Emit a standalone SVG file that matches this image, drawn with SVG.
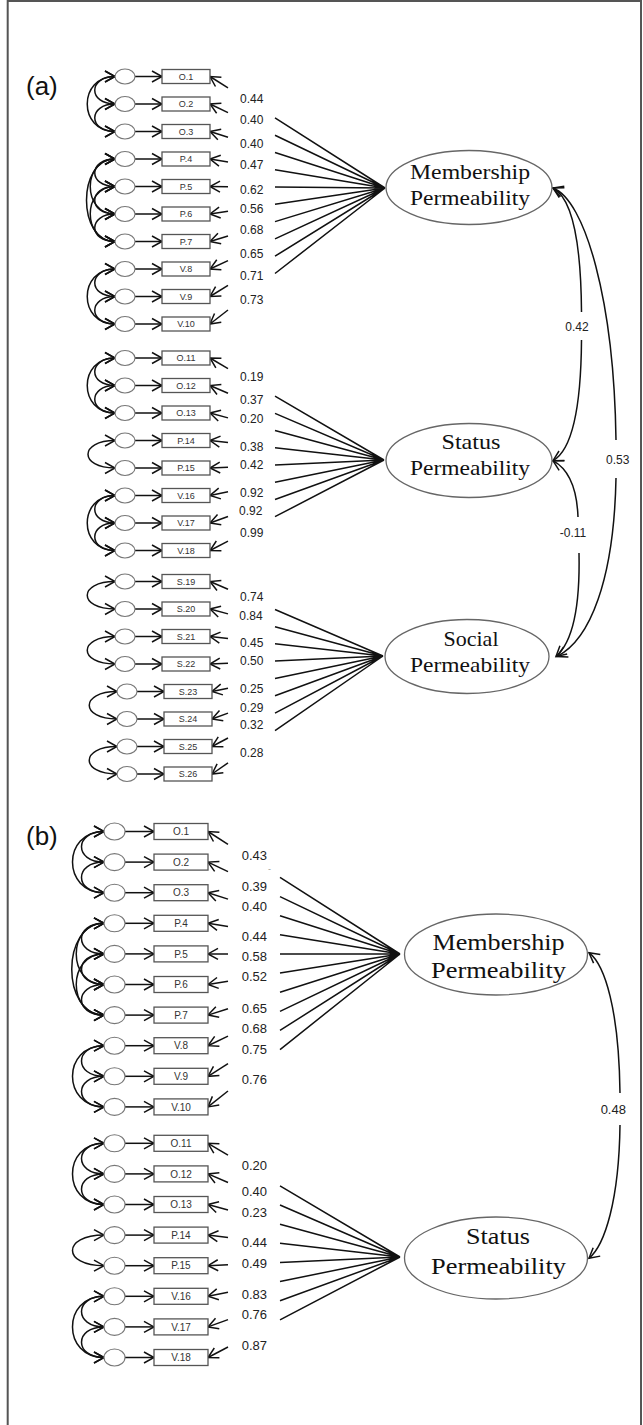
<svg xmlns="http://www.w3.org/2000/svg" width="643" height="1425" viewBox="0 0 643 1425">
<style>
.e{fill:#fff;stroke:#777;stroke-width:1.1}
.ind rect{fill:#fff;stroke:#555;stroke-width:1.3}
.ind text{font-family:"Liberation Sans",Arial,sans-serif;font-size:9px;fill:#333;text-anchor:middle}
.b .ind text{font-size:10px}
.fac ellipse{fill:#fff;stroke:#666;stroke-width:1.3}
.fac text{font-family:"Liberation Serif","Times New Roman",serif;fill:#111;text-anchor:middle;font-size:22px}
.b .fac text{font-size:24px}
.ln{stroke:#111;stroke-width:1.5;fill:none}
.arr{marker-end:url(#ah)}
.dbl{marker-start:url(#ah);marker-end:url(#ah)}
.lbl{font-family:"Liberation Sans",Arial,sans-serif;font-size:12px;fill:#222}
.lb{font-size:13px}
.cl{font-family:"Liberation Sans",Arial,sans-serif;font-size:12px;fill:#222;text-anchor:middle}
.pn{font-family:"Liberation Sans",Arial,sans-serif;font-size:26px;fill:#111}
</style>
<defs>
<marker id="ah" viewBox="-12 -8 14 16" refX="0" refY="0" markerWidth="14" markerHeight="16" markerUnits="userSpaceOnUse" orient="auto-start-reverse">
<path d="M-10,-5.5 L0,0 L-10,5.5" fill="none" stroke="#111" stroke-width="1.5"/>
</marker>
</defs>
<rect width="643" height="1425" fill="#fff"/>
<path d="M7.7,1425 L7.7,1 L641,1 L641,1425" fill="none" stroke="#555" stroke-width="2"/>
<text class="pn" x="26" y="95">(a)</text>
<text class="pn" x="26" y="845">(b)</text>

<g id="panel-a">
<g id="connectors-a">
<g class="ln arr">
<line x1="135" y1="76.5" x2="162" y2="76.5"/><line x1="135" y1="104" x2="162" y2="104"/><line x1="135" y1="131.5" x2="162" y2="131.5"/><line x1="135" y1="159" x2="162" y2="159"/><line x1="135" y1="186.5" x2="162" y2="186.5"/><line x1="135" y1="214" x2="162" y2="214"/><line x1="135" y1="241.5" x2="162" y2="241.5"/><line x1="135" y1="269" x2="162" y2="269"/><line x1="135" y1="296.5" x2="162" y2="296.5"/><line x1="135" y1="324" x2="162" y2="324"/>
<line x1="135" y1="358" x2="162" y2="358"/><line x1="135" y1="385.5" x2="162" y2="385.5"/><line x1="135" y1="413" x2="162" y2="413"/><line x1="135" y1="440.5" x2="162" y2="440.5"/><line x1="135" y1="468" x2="162" y2="468"/><line x1="135" y1="495.5" x2="162" y2="495.5"/><line x1="135" y1="523" x2="162" y2="523"/><line x1="135" y1="550.5" x2="162" y2="550.5"/>
<line x1="135" y1="581.5" x2="162" y2="581.5"/><line x1="135" y1="609" x2="162" y2="609"/><line x1="135" y1="636.5" x2="162" y2="636.5"/><line x1="135" y1="664" x2="162" y2="664"/><line x1="137" y1="691.5" x2="164" y2="691.5"/><line x1="137" y1="719" x2="164" y2="719"/><line x1="137" y1="746.5" x2="164" y2="746.5"/><line x1="137" y1="774" x2="164" y2="774"/>
<line x1="228" y1="87.97" x2="210" y2="76.5"/><line x1="228" y1="112.64" x2="210" y2="104"/><line x1="228" y1="137.31" x2="210" y2="131.5"/><line x1="228" y1="161.98" x2="210" y2="159"/><line x1="228" y1="186.65" x2="210" y2="186.5"/><line x1="228" y1="211.33" x2="210" y2="214"/><line x1="228" y1="236" x2="210" y2="241.5"/><line x1="228" y1="260.67" x2="210" y2="269"/><line x1="228" y1="285.34" x2="210" y2="296.5"/><line x1="228" y1="310.01" x2="210" y2="324"/>
<line x1="228" y1="368.55" x2="210" y2="358"/><line x1="228" y1="393.21" x2="210" y2="385.5"/><line x1="228" y1="417.86" x2="210" y2="413"/><line x1="228" y1="442.52" x2="210" y2="440.5"/><line x1="228" y1="467.17" x2="210" y2="468"/><line x1="228" y1="491.83" x2="210" y2="495.5"/><line x1="228" y1="516.48" x2="210" y2="523"/><line x1="228" y1="541.14" x2="210" y2="550.5"/>
<line x1="228" y1="589.25" x2="210" y2="581.5"/><line x1="228" y1="613.89" x2="210" y2="609"/><line x1="228" y1="638.53" x2="210" y2="636.5"/><line x1="228" y1="663.17" x2="210" y2="664"/><line x1="228" y1="688.18" x2="212" y2="691.5"/><line x1="228" y1="713.11" x2="212" y2="719"/><line x1="228" y1="738.03" x2="212" y2="746.5"/><line x1="228" y1="762.96" x2="212" y2="774"/>
</g>
<g class="ln dbl">
<path d="M115,76.5C88,76.5 88,104 115,104"/><path d="M115,104C88,104 88,131.5 115,131.5"/><path d="M115,76.5C78,76.5 78,131.5 115,131.5"/>
<path d="M115,159C88,159 88,186.5 115,186.5"/><path d="M115,186.5C88,186.5 88,214 115,214"/><path d="M115,214C88,214 88,241.5 115,241.5"/>
<path d="M115,159C82,159 82,214 115,214"/><path d="M115,186.5C82,186.5 82,241.5 115,241.5"/><path d="M115,159C77,159 77,241.5 115,241.5"/>
<path d="M115,269C88,269 88,296.5 115,296.5"/><path d="M115,296.5C88,296.5 88,324 115,324"/><path d="M115,269C78,269 78,324 115,324"/>
<path d="M115,358C88,358 88,385.5 115,385.5"/><path d="M115,385.5C88,385.5 88,413 115,413"/><path d="M115,358C78,358 78,413 115,413"/>
<path d="M115,440.5C79,440.5 79,468 115,468"/>
<path d="M115,495.5C88,495.5 88,523 115,523"/><path d="M115,523C88,523 88,550.5 115,550.5"/><path d="M115,495.5C78,495.5 78,550.5 115,550.5"/>
<path d="M115,581.5C78,581.5 78,609 115,609"/><path d="M115,636.5C78,636.5 78,664 115,664"/>
<path d="M117,691.5C80,691.5 80,719 117,719"/><path d="M117,746.5C80,746.5 80,774 117,774"/>
</g>
<path class="ln" d="M275,117.91L385,188M275,135.2L385,188M275,152.49L385,188M275,169.77L385,188M275,187.06L385,188M275,204.34L385,188M275,221.63L385,188M275,238.91L385,188M275,256.2L385,188M275,273.49L385,188"/>
<path class="ln" d="M275,396.1L384,460M275,413.33L384,460M275,430.56L384,460M275,447.78L384,460M275,465.01L384,460M275,482.24L384,460M275,499.47L384,460M275,516.69L384,460"/>
<path class="ln" d="M275,609.49L383,656M275,626.66L383,656M275,643.83L383,656M275,661L383,656M275,678.42L383,656M275,695.79L383,656M275,713.16L383,656M275,730.52L383,656"/>
<path class="ln" marker-start="url(#ah)" d="M553,188C572,198 581,240 581.5,312"/>
<path class="ln" marker-end="url(#ah)" d="M581.5,340C581,410 572,450 553,460.7"/>
<path class="ln" marker-start="url(#ah)" d="M553,188C585,200 614,300 616,440"/>
<path class="ln" marker-end="url(#ah)" d="M616,478C614,580 590,640 557,656.5"/>
<path class="ln" marker-start="url(#ah)" d="M553,460.7C570,470 577,490 578,517"/>
<path class="ln" marker-end="url(#ah)" d="M579,553C580,600 575,640 556,656.5"/>
<text class="cl" x="577" y="331">0.42</text>
<text class="cl" x="617.7" y="463.5">0.53</text>
<text class="cl" x="573" y="537">-0.11</text>
<g class="lbl">
<text x="240" y="102.6">0.44</text><text x="240" y="123.6">0.40</text><text x="240" y="147.6">0.40</text><text x="240" y="169.3">0.47</text><text x="240" y="194.3">0.62</text><text x="240" y="212.6">0.56</text><text x="240" y="234.3">0.68</text><text x="240" y="257.6">0.65</text><text x="240" y="280.3">0.71</text><text x="240" y="304.3">0.73</text>
<text x="240" y="381">0.19</text><text x="240" y="404.3">0.37</text><text x="240" y="422.6">0.20</text><text x="240" y="451">0.38</text><text x="240" y="468.6">0.42</text><text x="240" y="497">0.92</text><text x="239" y="515">0.92</text><text x="240" y="536.6">0.99</text>
<text x="240" y="601">0.74</text><text x="239.3" y="620">0.84</text><text x="240" y="647">0.45</text><text x="240" y="665.3">0.50</text><text x="240" y="692.6">0.25</text><text x="240" y="711.6">0.29</text><text x="240" y="729.3">0.32</text><text x="240" y="757">0.28</text>
</g>
</g>

<g id="a-errors">
<g id="a-e1"><ellipse class="e" cx="125" cy="76.5" rx="10" ry="7.5"/></g>
<g id="a-e2"><ellipse class="e" cx="125" cy="104" rx="10" ry="7.5"/></g>
<g id="a-e3"><ellipse class="e" cx="125" cy="131.5" rx="10" ry="7.5"/></g>
<g id="a-e4"><ellipse class="e" cx="125" cy="159" rx="10" ry="7.5"/></g>
<g id="a-e5"><ellipse class="e" cx="125" cy="186.5" rx="10" ry="7.5"/></g>
<g id="a-e6"><ellipse class="e" cx="125" cy="214" rx="10" ry="7.5"/></g>
<g id="a-e7"><ellipse class="e" cx="125" cy="241.5" rx="10" ry="7.5"/></g>
<g id="a-e8"><ellipse class="e" cx="125" cy="269" rx="10" ry="7.5"/></g>
<g id="a-e9"><ellipse class="e" cx="125" cy="296.5" rx="10" ry="7.5"/></g>
<g id="a-e10"><ellipse class="e" cx="125" cy="324" rx="10" ry="7.5"/></g>
<g id="a-e11"><ellipse class="e" cx="125" cy="358" rx="10" ry="7.5"/></g>
<g id="a-e12"><ellipse class="e" cx="125" cy="385.5" rx="10" ry="7.5"/></g>
<g id="a-e13"><ellipse class="e" cx="125" cy="413" rx="10" ry="7.5"/></g>
<g id="a-e14"><ellipse class="e" cx="125" cy="440.5" rx="10" ry="7.5"/></g>
<g id="a-e15"><ellipse class="e" cx="125" cy="468" rx="10" ry="7.5"/></g>
<g id="a-e16"><ellipse class="e" cx="125" cy="495.5" rx="10" ry="7.5"/></g>
<g id="a-e17"><ellipse class="e" cx="125" cy="523" rx="10" ry="7.5"/></g>
<g id="a-e18"><ellipse class="e" cx="125" cy="550.5" rx="10" ry="7.5"/></g>
<g id="a-e19"><ellipse class="e" cx="125" cy="581.5" rx="10" ry="7.5"/></g>
<g id="a-e20"><ellipse class="e" cx="125" cy="609" rx="10" ry="7.5"/></g>
<g id="a-e21"><ellipse class="e" cx="125" cy="636.5" rx="10" ry="7.5"/></g>
<g id="a-e22"><ellipse class="e" cx="125" cy="664" rx="10" ry="7.5"/></g>
<g id="a-e23"><ellipse class="e" cx="127" cy="691.5" rx="10" ry="7.5"/></g>
<g id="a-e24"><ellipse class="e" cx="127" cy="719" rx="10" ry="7.5"/></g>
<g id="a-e25"><ellipse class="e" cx="127" cy="746.5" rx="10" ry="7.5"/></g>
<g id="a-e26"><ellipse class="e" cx="127" cy="774" rx="10" ry="7.5"/></g>
</g>

<g id="a-indicators">
<g id="a-O1" class="ind"><rect x="162" y="69.5" width="48" height="14"/><text x="186" y="79.7">O.1</text></g>
<g id="a-O2" class="ind"><rect x="162" y="97" width="48" height="14"/><text x="186" y="107.2">O.2</text></g>
<g id="a-O3" class="ind"><rect x="162" y="124.5" width="48" height="14"/><text x="186" y="134.7">O.3</text></g>
<g id="a-P4" class="ind"><rect x="162" y="152" width="48" height="14"/><text x="186" y="162.2">P.4</text></g>
<g id="a-P5" class="ind"><rect x="162" y="179.5" width="48" height="14"/><text x="186" y="189.7">P.5</text></g>
<g id="a-P6" class="ind"><rect x="162" y="207" width="48" height="14"/><text x="186" y="217.2">P.6</text></g>
<g id="a-P7" class="ind"><rect x="162" y="234.5" width="48" height="14"/><text x="186" y="244.7">P.7</text></g>
<g id="a-V8" class="ind"><rect x="162" y="262" width="48" height="14"/><text x="186" y="272.2">V.8</text></g>
<g id="a-V9" class="ind"><rect x="162" y="289.5" width="48" height="14"/><text x="186" y="299.7">V.9</text></g>
<g id="a-V10" class="ind"><rect x="162" y="317" width="48" height="14"/><text x="186" y="327.2">V.10</text></g>
<g id="a-O11" class="ind"><rect x="162" y="351" width="48" height="14"/><text x="186" y="361.2">O.11</text></g>
<g id="a-O12" class="ind"><rect x="162" y="378.5" width="48" height="14"/><text x="186" y="388.7">O.12</text></g>
<g id="a-O13" class="ind"><rect x="162" y="406" width="48" height="14"/><text x="186" y="416.2">O.13</text></g>
<g id="a-P14" class="ind"><rect x="162" y="433.5" width="48" height="14"/><text x="186" y="443.7">P.14</text></g>
<g id="a-P15" class="ind"><rect x="162" y="461" width="48" height="14"/><text x="186" y="471.2">P.15</text></g>
<g id="a-V16" class="ind"><rect x="162" y="488.5" width="48" height="14"/><text x="186" y="498.7">V.16</text></g>
<g id="a-V17" class="ind"><rect x="162" y="516" width="48" height="14"/><text x="186" y="526.2">V.17</text></g>
<g id="a-V18" class="ind"><rect x="162" y="543.5" width="48" height="14"/><text x="186" y="553.7">V.18</text></g>
<g id="a-S19" class="ind"><rect x="162" y="574.5" width="48" height="14"/><text x="186" y="584.7">S.19</text></g>
<g id="a-S20" class="ind"><rect x="162" y="602" width="48" height="14"/><text x="186" y="612.2">S.20</text></g>
<g id="a-S21" class="ind"><rect x="162" y="629.5" width="48" height="14"/><text x="186" y="639.7">S.21</text></g>
<g id="a-S22" class="ind"><rect x="162" y="657" width="48" height="14"/><text x="186" y="667.2">S.22</text></g>
<g id="a-S23" class="ind"><rect x="164" y="684.5" width="48" height="14"/><text x="188" y="694.7">S.23</text></g>
<g id="a-S24" class="ind"><rect x="164" y="712" width="48" height="14"/><text x="188" y="722.2">S.24</text></g>
<g id="a-S25" class="ind"><rect x="164" y="739.5" width="48" height="14"/><text x="188" y="749.7">S.25</text></g>
<g id="a-S26" class="ind"><rect x="164" y="767" width="48" height="14"/><text x="188" y="777.2">S.26</text></g>
</g>

<g id="a-membership" class="fac"><ellipse cx="469" cy="187.5" rx="83" ry="37"/><text x="470" y="179.3" textLength="120" lengthAdjust="spacingAndGlyphs">Membership</text><text x="470" y="205" textLength="120" lengthAdjust="spacingAndGlyphs">Permeability</text></g>
<g id="a-status" class="fac"><ellipse cx="469" cy="460.5" rx="83" ry="37"/><text x="471" y="449.3" textLength="59" lengthAdjust="spacingAndGlyphs">Status</text><text x="470" y="475" textLength="120" lengthAdjust="spacingAndGlyphs">Permeability</text></g>
<g id="a-social" class="fac"><ellipse cx="467" cy="656.5" rx="82" ry="37"/><text x="471" y="646" textLength="55" lengthAdjust="spacingAndGlyphs">Social</text><text x="470" y="671.7" textLength="120" lengthAdjust="spacingAndGlyphs">Permeability</text></g>
</g>

<g id="panel-b" class="b">
<g id="connectors-b">
<g class="ln arr">
<line x1="125" y1="831.5" x2="154" y2="831.5"/><line x1="125" y1="862.1" x2="154" y2="862.1"/><line x1="125" y1="892.7" x2="154" y2="892.7"/><line x1="125" y1="923.3" x2="154" y2="923.3"/><line x1="125" y1="953.9" x2="154" y2="953.9"/><line x1="125" y1="984.5" x2="154" y2="984.5"/><line x1="125" y1="1015.1" x2="154" y2="1015.1"/><line x1="125" y1="1045.7" x2="154" y2="1045.7"/><line x1="125" y1="1076.3" x2="154" y2="1076.3"/><line x1="125" y1="1106.9" x2="154" y2="1106.9"/>
<line x1="125" y1="1143.3" x2="154" y2="1143.3"/><line x1="125" y1="1173.9" x2="154" y2="1173.9"/><line x1="125" y1="1204.5" x2="154" y2="1204.5"/><line x1="125" y1="1235.1" x2="154" y2="1235.1"/><line x1="125" y1="1265.7" x2="154" y2="1265.7"/><line x1="125" y1="1296.3" x2="154" y2="1296.3"/><line x1="125" y1="1326.9" x2="154" y2="1326.9"/><line x1="125" y1="1357.5" x2="154" y2="1357.5"/>
<line x1="228" y1="844.26" x2="208" y2="831.5"/><line x1="228" y1="871.67" x2="208" y2="862.1"/><line x1="228" y1="899.09" x2="208" y2="892.7"/><line x1="228" y1="926.5" x2="208" y2="923.3"/><line x1="228" y1="953.91" x2="208" y2="953.9"/><line x1="228" y1="981.32" x2="208" y2="984.5"/><line x1="228" y1="1008.74" x2="208" y2="1015.1"/><line x1="228" y1="1036.15" x2="208" y2="1045.7"/><line x1="228" y1="1063.56" x2="208" y2="1076.3"/><line x1="228" y1="1090.97" x2="208" y2="1106.9"/>
<line x1="228" y1="1155.14" x2="208" y2="1143.3"/><line x1="228" y1="1182.56" x2="208" y2="1173.9"/><line x1="228" y1="1209.97" x2="208" y2="1204.5"/><line x1="228" y1="1237.38" x2="208" y2="1235.1"/><line x1="228" y1="1264.79" x2="208" y2="1265.7"/><line x1="228" y1="1292.21" x2="208" y2="1296.3"/><line x1="228" y1="1319.62" x2="208" y2="1326.9"/><line x1="228" y1="1347.03" x2="208" y2="1357.5"/>
</g>
<g class="ln dbl">
<path d="M104,831.5C74,831.5 74,862.1 104,862.1"/><path d="M104,862.1C74,862.1 74,892.7 104,892.7"/><path d="M104,831.5C62,831.5 62,892.7 104,892.7"/>
<path d="M104,923.3C74,923.3 74,953.9 104,953.9"/><path d="M104,953.9C74,953.9 74,984.5 104,984.5"/><path d="M104,984.5C74,984.5 74,1015.1 104,1015.1"/>
<path d="M104,923.3C67,923.3 67,984.5 104,984.5"/><path d="M104,953.9C67,953.9 67,1015.1 104,1015.1"/><path d="M104,923.3C61,923.3 61,1015.1 104,1015.1"/>
<path d="M104,1045.7C74,1045.7 74,1076.3 104,1076.3"/><path d="M104,1076.3C74,1076.3 74,1106.9 104,1106.9"/><path d="M104,1045.7C62,1045.7 62,1106.9 104,1106.9"/>
<path d="M104,1143.3C74,1143.3 74,1173.9 104,1173.9"/><path d="M104,1173.9C74,1173.9 74,1204.5 104,1204.5"/><path d="M104,1143.3C62,1143.3 62,1204.5 104,1204.5"/>
<path d="M104,1235.1C62,1235.1 62,1265.7 104,1265.7"/>
<path d="M104,1296.3C74,1296.3 74,1326.9 104,1326.9"/><path d="M104,1326.9C74,1326.9 74,1357.5 104,1357.5"/><path d="M104,1296.3C62,1296.3 62,1357.5 104,1357.5"/>
</g>
<path class="ln" d="M280,877.44L400,954M280,896.56L400,954M280,915.69L400,954M280,934.81L400,954M280,953.94L400,954M280,973.06L400,954M280,992.19L400,954M280,1011.31L400,954M280,1030.44L400,954M280,1049.56L400,954"/>
<path class="ln" d="M280,1185.94L400,1257M280,1205.06L400,1257M280,1224.19L400,1257M280,1243.31L400,1257M280,1262.44L400,1257M280,1281.56L400,1257M280,1300.69L400,1257M280,1319.81L400,1257"/>
<path class="ln" marker-start="url(#ah)" d="M589,952.7C605,965 619,1010 620,1093"/>
<path class="ln" marker-end="url(#ah)" d="M620,1125C619,1200 605,1245 589,1258.3"/>
<text class="cl" x="613.3" y="1113.8" style="font-size:13px">0.48</text>
<g class="lbl lb">
<text x="241.7" y="859.7">0.43</text><text x="268" y="872" style="font-size:9px;fill:#999">-</text><text x="241.7" y="890.7">0.39</text><text x="241.7" y="911.4">0.40</text><text x="241.7" y="941.4">0.44</text><text x="241.7" y="961.4">0.58</text><text x="241.7" y="980.7">0.52</text><text x="241.7" y="1013">0.65</text><text x="241.7" y="1033">0.68</text><text x="241.7" y="1053.7">0.75</text><text x="241.7" y="1084">0.76</text>
<text x="241.7" y="1169.7">0.20</text><text x="241.7" y="1196.4">0.40</text><text x="241.7" y="1217">0.23</text><text x="241.7" y="1247">0.44</text><text x="241.7" y="1268">0.49</text><text x="241.7" y="1299">0.83</text><text x="241.7" y="1318.7">0.76</text><text x="241.7" y="1349.7">0.87</text>
</g>
</g>

<g id="b-errors">
<g id="b-e1"><ellipse class="e" cx="114.5" cy="831.5" rx="10.5" ry="8.5"/></g>
<g id="b-e2"><ellipse class="e" cx="114.5" cy="862.1" rx="10.5" ry="8.5"/></g>
<g id="b-e3"><ellipse class="e" cx="114.5" cy="892.7" rx="10.5" ry="8.5"/></g>
<g id="b-e4"><ellipse class="e" cx="114.5" cy="923.3" rx="10.5" ry="8.5"/></g>
<g id="b-e5"><ellipse class="e" cx="114.5" cy="953.9" rx="10.5" ry="8.5"/></g>
<g id="b-e6"><ellipse class="e" cx="114.5" cy="984.5" rx="10.5" ry="8.5"/></g>
<g id="b-e7"><ellipse class="e" cx="114.5" cy="1015.1" rx="10.5" ry="8.5"/></g>
<g id="b-e8"><ellipse class="e" cx="114.5" cy="1045.7" rx="10.5" ry="8.5"/></g>
<g id="b-e9"><ellipse class="e" cx="114.5" cy="1076.3" rx="10.5" ry="8.5"/></g>
<g id="b-e10"><ellipse class="e" cx="114.5" cy="1106.9" rx="10.5" ry="8.5"/></g>
<g id="b-e11"><ellipse class="e" cx="114.5" cy="1143.3" rx="10.5" ry="8.5"/></g>
<g id="b-e12"><ellipse class="e" cx="114.5" cy="1173.9" rx="10.5" ry="8.5"/></g>
<g id="b-e13"><ellipse class="e" cx="114.5" cy="1204.5" rx="10.5" ry="8.5"/></g>
<g id="b-e14"><ellipse class="e" cx="114.5" cy="1235.1" rx="10.5" ry="8.5"/></g>
<g id="b-e15"><ellipse class="e" cx="114.5" cy="1265.7" rx="10.5" ry="8.5"/></g>
<g id="b-e16"><ellipse class="e" cx="114.5" cy="1296.3" rx="10.5" ry="8.5"/></g>
<g id="b-e17"><ellipse class="e" cx="114.5" cy="1326.9" rx="10.5" ry="8.5"/></g>
<g id="b-e18"><ellipse class="e" cx="114.5" cy="1357.5" rx="10.5" ry="8.5"/></g>
</g>

<g id="b-indicators">
<g id="b-O1" class="ind"><rect x="154" y="823.5" width="54" height="16"/><text x="181" y="835.1">O.1</text></g>
<g id="b-O2" class="ind"><rect x="154" y="854.1" width="54" height="16"/><text x="181" y="865.7">O.2</text></g>
<g id="b-O3" class="ind"><rect x="154" y="884.7" width="54" height="16"/><text x="181" y="896.3">O.3</text></g>
<g id="b-P4" class="ind"><rect x="154" y="915.3" width="54" height="16"/><text x="181" y="926.9">P.4</text></g>
<g id="b-P5" class="ind"><rect x="154" y="945.9" width="54" height="16"/><text x="181" y="957.5">P.5</text></g>
<g id="b-P6" class="ind"><rect x="154" y="976.5" width="54" height="16"/><text x="181" y="988.1">P.6</text></g>
<g id="b-P7" class="ind"><rect x="154" y="1007.1" width="54" height="16"/><text x="181" y="1018.7">P.7</text></g>
<g id="b-V8" class="ind"><rect x="154" y="1037.7" width="54" height="16"/><text x="181" y="1049.3">V.8</text></g>
<g id="b-V9" class="ind"><rect x="154" y="1068.3" width="54" height="16"/><text x="181" y="1079.9">V.9</text></g>
<g id="b-V10" class="ind"><rect x="154" y="1098.9" width="54" height="16"/><text x="181" y="1110.5">V.10</text></g>
<g id="b-O11" class="ind"><rect x="154" y="1135.3" width="54" height="16"/><text x="181" y="1146.9">O.11</text></g>
<g id="b-O12" class="ind"><rect x="154" y="1165.9" width="54" height="16"/><text x="181" y="1177.5">O.12</text></g>
<g id="b-O13" class="ind"><rect x="154" y="1196.5" width="54" height="16"/><text x="181" y="1208.1">O.13</text></g>
<g id="b-P14" class="ind"><rect x="154" y="1227.1" width="54" height="16"/><text x="181" y="1238.7">P.14</text></g>
<g id="b-P15" class="ind"><rect x="154" y="1257.7" width="54" height="16"/><text x="181" y="1269.3">P.15</text></g>
<g id="b-V16" class="ind"><rect x="154" y="1288.3" width="54" height="16"/><text x="181" y="1299.9">V.16</text></g>
<g id="b-V17" class="ind"><rect x="154" y="1318.9" width="54" height="16"/><text x="181" y="1330.5">V.17</text></g>
<g id="b-V18" class="ind"><rect x="154" y="1349.5" width="54" height="16"/><text x="181" y="1361.1">V.18</text></g>
</g>

<g id="b-membership" class="fac"><ellipse cx="496" cy="954.5" rx="91.5" ry="40.5"/><text x="498.5" y="950" textLength="132" lengthAdjust="spacingAndGlyphs">Membership</text><text x="498.5" y="978.3" textLength="135" lengthAdjust="spacingAndGlyphs">Permeability</text></g>
<g id="b-status" class="fac"><ellipse cx="496" cy="1258" rx="91.5" ry="41"/><text x="498" y="1244" textLength="64" lengthAdjust="spacingAndGlyphs">Status</text><text x="498.5" y="1274" textLength="135" lengthAdjust="spacingAndGlyphs">Permeability</text></g>
</g>
</svg>
